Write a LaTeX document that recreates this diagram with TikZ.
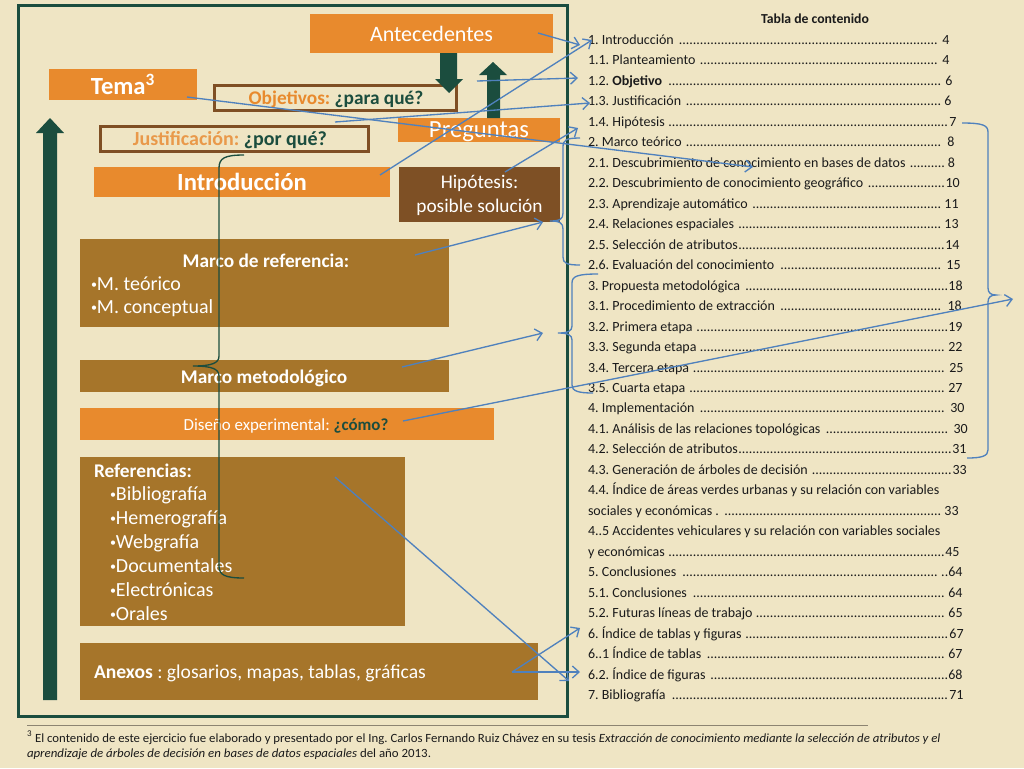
\documentclass[tikz,border=0pt]{standalone}
\usepackage{fontspec}
\setmainfont{Carlito}
\usepackage{graphicx}
\usetikzlibrary{arrows.meta,fit}
\frenchspacing
\newdimen\PX \PX=0.75pt
\definecolor{bgc}{HTML}{EFE5C4}
\definecolor{orangeB}{HTML}{E88A2D}
\definecolor{orangeT}{HTML}{E9994A}
\definecolor{goldB}{HTML}{A6752A}
\definecolor{hipB}{HTML}{7E5025}
\definecolor{outB}{HTML}{7F4F24}
\definecolor{dkgreen}{HTML}{1B4D3E}
\definecolor{arrblue}{HTML}{4F81BD}
\definecolor{tocblack}{HTML}{1A1A1A}
\definecolor{sepgray}{HTML}{8C8472}
\newcommand\fs[1]{\fontsize{#1}{#1}\selectfont}
\newcommand\smb{\raisebox{1.2pt}{\fs{9}•}}
\newcommand\dotlead{\leaders\hbox to 0.25em{\hss.\hss}\hfill}
\newcommand\tocrow[4]{\node[toc] (toc#1) at (588,{44.5+20.47*#1}) {\makebox[\dimexpr #2\PX-588\PX\relax][l]{#3\dotlead#4}};}
\newcommand\tocplain[2]{\node[toc] (toc#1) at (588,{44.5+20.47*#1}) {#2};}
\begin{document}
\frenchspacing
\begin{tikzpicture}[x=0.75pt,y=-0.75pt,
  every node/.style={inner sep=0pt,outer sep=0pt},
  obox/.style={fit={#1},fill=orangeB},
  gbox/.style={fit={#1},fill=goldB},
  hbox/.style={fit={#1},fill=hipB},
  qbox/.style={fit={#1},draw=outB,line width=2.25pt},
  wt/.style={anchor=base,text=white},
  toc/.style={anchor=base west,text=tocblack,font=\fs{10.5}},
  barrow/.style={draw=arrblue,line width=1pt,-{Straight Barb[length=5pt,width=9pt]}},
  bline/.style={draw=arrblue,line width=1pt},
  gline/.style={draw=dkgreen,line width=1pt},
  blk/.style={fill=dkgreen}]
\fill[bgc] (0,0) rectangle (1024,768);
\useasboundingbox (0,0) rectangle (1024,768);

% frame
\node[draw=dkgreen,line width=2.25pt,fit={(18,5)(567,716)}] (frame) {};

% boxes and texts
\node[obox={(310,14)(553,53)}] (ant) {};
\node[wt,font=\fs{16.5}] (antT) at (431.5,41) {Antecedentes};
\node[obox={(49,69)(197,100)}] (tema) {};
\node[wt,font=\bfseries\fs{18.5}] (temaT) at (123,94) {Tema\textsuperscript{3}};
\node[qbox={(214,85)(456,110)}] (obj) {};
\node[anchor=base,font=\bfseries\fs{14.5}] (objT) at (336,104) {\textcolor{orangeB}{Objetivos:} \textcolor{dkgreen}{¿para qué?}};
\node[qbox={(100,126)(368,151)}] (jus) {};
\node[anchor=base,font=\bfseries\fs{15}] (jusT) at (230,145) {\textcolor{orangeT}{Justificación:} \textcolor{dkgreen}{¿por qué?}};
\node[obox={(398,118)(560,142)}] (pre) {};
\node[wt,font=\fs{18.5}] (preT) at (479,137) {Preguntas};
\node[obox={(94,167)(390,197)}] (intro) {};
\node[wt,font=\bfseries\fs{18.5}] (introT) at (242,190) {Introducción};
\node[hbox={(399,167)(560,222)}] (hip) {};
\node[wt,font=\fs{14.5}] (hipT1) at (479.5,188) {Hipótesis:};
\node[wt,font=\fs{14.5}] (hipT2) at (479.5,212) {posible solución};
\node[gbox={(80,239)(449,327)}] (mref) {};
\node[wt,font=\bfseries\fs{14.5}] (mrefT) at (266,267) {Marco de referencia:};
\node[wt,anchor=base west,font=\fs{15}] (mrefA) at (91,290) {\smb M. teórico};
\node[wt,anchor=base west,font=\fs{15}] (mrefB) at (91,313) {\smb M. conceptual};
\node[gbox={(80,360)(449,392)}] (mmet) {};
\node[wt,font=\bfseries\fs{14.5}] (mmetT) at (264,383) {Marco metodológico};
\node[obox={(80,408)(494,440)}] (dis) {};
\node[wt,font=\fs{12.7}] (disT) at (286,430) {Diseño experimental: \textbf{\textcolor{dkgreen}{¿cómo?}}};
\node[gbox={(80,457)(405,626)}] (refs) {};
\node[wt,anchor=base west,font=\bfseries\fs{14.5}] (refsT) at (94,477) {Referencias:};
\node[wt,anchor=base west,font=\fs{15}] (r1) at (110,500) {\smb Bibliografía};
\node[wt,anchor=base west,font=\fs{15}] (r2) at (110,524) {\smb Hemerografía};
\node[wt,anchor=base west,font=\fs{15}] (r3) at (110,548) {\smb Webgrafía};
\node[wt,anchor=base west,font=\fs{15}] (r4) at (110,572) {\smb Documentales};
\node[wt,anchor=base west,font=\fs{15}] (r5) at (110,596) {\smb Electrónicas};
\node[wt,anchor=base west,font=\fs{15}] (r6) at (110,620) {\smb Orales};
\node[gbox={(80,643)(538,700)}] (anx) {};
\node[wt,anchor=base west,font=\fs{14.7}] (anxT) at (94,678) {\textbf{Anexos} : glosarios, mapas, tablas, gráficas};

% block arrows
\fill[blk] (440,53) -- (457,53) -- (457,79) -- (463,79) -- (449,93) -- (435,79) -- (440,79) -- cycle;
\fill[blk] (487,118) -- (500,118) -- (500,75) -- (507,75) -- (493,62) -- (479,75) -- (487,75) -- cycle;
\fill[blk] (43,700) -- (57,700) -- (57,133) -- (64,133) -- (50,118) -- (36,133) -- (43,133) -- cycle;

% green brace
\draw[gline] (244,155) .. controls (225,155) and (219,158) .. (219,168) -- (219,356) .. controls (219,363) and (212,366) .. (193,366) .. controls (212,366) and (219,369) .. (219,376) -- (219,566) .. controls (219,575) and (225,578) .. (244,578);

% TOC
\node[anchor=base,font=\bfseries\fs{10.3},text=tocblack] (tocT) at (815,23) {Tabla de contenido};
\tocrow{0}{950}{1. Introducción }{ 4}
\tocrow{1}{950}{1.1. Planteamiento }{ 4}
\tocrow{2}{953}{1.2. \textbf{Objetivo} }{ 6}
\tocrow{3}{952}{1.3. Justificación }{6}
\tocrow{4}{957}{1.4. Hipótesis }{7}
\tocrow{5}{955}{2. Marco teórico }{ 8}
\tocrow{6}{955}{2.1. Descubrimiento de conocimiento en bases de datos }{8}
\tocrow{7}{960}{2.2. Descubrimiento de conocimiento geográfico }{10}
\tocrow{8}{959}{2.3. Aprendizaje automático }{11}
\tocrow{9}{959}{2.4. Relaciones espaciales }{13}
\tocrow{10}{960}{2.5. Selección de atributos}{14}
\tocrow{11}{961}{2.6. Evaluación del conocimiento }{ 15}
\tocrow{12}{963}{3. Propuesta metodológica }{18}
\tocrow{13}{962}{3.1. Procedimiento de extracción }{ 18}
\tocrow{14}{963}{3.2. Primera etapa }{19}
\tocrow{15}{963}{3.3. Segunda etapa }{ 22}
\tocrow{16}{964}{3.4. Tercera etapa }{ 25}
\tocrow{17}{963}{3.5. Cuarta etapa }{ 27}
\tocrow{18}{965}{4. Implementación }{ 30}
\tocrow{19}{968}{4.1. Análisis de las relaciones topológicas }{ 30}
\tocrow{20}{967}{4.2. Selección de atributos}{31}
\tocrow{21}{967}{4.3. Generación de árboles de decisión }{33}
\tocplain{22}{4.4. Índice de áreas verdes urbanas y su relación con variables}
\tocrow{23}{959}{sociales y económicas . }{ 33}
\tocplain{24}{4..5 Accidentes vehiculares y su relación con variables sociales}
\tocrow{25}{960}{y económicas }{45}
\tocrow{26}{963}{5. Conclusiones }{ ..64}
\tocrow{27}{963}{5.1. Conclusiones }{ 64}
\tocrow{28}{963}{5.2. Futuras líneas de trabajo }{ 65}
\tocrow{29}{964}{6. Índice de tablas y figuras }{67}
\tocrow{30}{963}{6..1 Índice de tablas }{ 67}
\tocrow{31}{963}{6.2. Índice de figuras }{68}
\tocrow{32}{964}{7. Bibliografía }{71}

% blue connectors
\coordinate (antOut) at (538,33);   \coordinate (tocIntroA) at (580,45);
\coordinate (introOut) at (380,175); \coordinate (tocIntroB) at (592,40);
\coordinate (objOut) at (477,81);   \coordinate (tocObj) at (578,78);
\coordinate (temaOut) at (187,97);  \coordinate (tocMT) at (753,167);
\coordinate (jusOut) at (335,122);  \coordinate (tocJus) at (590,103);
\coordinate (hipOut) at (505,172);  \coordinate (tocHip) at (578,128);
\coordinate (mrefOut) at (415,255); \coordinate (braceA) at (543,222);
\coordinate (mmetOut) at (402,367); \coordinate (braceB) at (543,333);
\coordinate (disOut) at (403,421);  \coordinate (braceC) at (1013,299);
\coordinate (refsOut) at (335,477); \coordinate (tocBib) at (569,681);
\coordinate (anxOut) at (512,672);  \coordinate (tocTab) at (580,628); \coordinate (tocFig) at (580,672);
\draw[barrow] (antOut) -- (tocIntroA);
\draw[barrow] (introOut) -- (tocIntroB);
\draw[barrow] (objOut) -- (tocObj);
\draw[barrow] (temaOut) -- (tocMT);
\draw[barrow] (jusOut) -- (tocJus);
\draw[barrow] (hipOut) -- (tocHip);
\draw[barrow] (mrefOut) -- (braceA);
\draw[barrow] (mmetOut) -- (braceB);
\draw[barrow] (disOut) -- (braceC);
\draw[barrow] (refsOut) -- (tocBib);
\draw[barrow] (anxOut) -- (tocTab);
\draw[barrow] (anxOut) -- (tocFig);

% blue braces
\draw[bline] (580,138) .. controls (566,138) and (563,140) .. (563,147) -- (563,213) .. controls (563,219) and (560,221) .. (550,221) .. controls (560,221) and (563,223) .. (563,229) -- (563,257) .. controls (563,263) and (566,265) .. (580,265);
\draw[bline] (598,274) .. controls (578,274) and (572,276) .. (572,283) -- (572,326) .. controls (572,331) and (568,333) .. (558,333) .. controls (568,333) and (572,335) .. (572,340) -- (572,385) .. controls (572,391) and (578,393) .. (593,393);
\draw[bline] (962,123) .. controls (982,123) and (988,125) .. (988,132) -- (988,288) .. controls (988,293) and (991,295) .. (996,295) .. controls (991,295) and (988,297) .. (988,302) -- (988,450) .. controls (988,456) and (982,458) .. (967,458);

% footnote
\draw[sepgray,line width=0.75pt] (27,725) -- (868,725);
\node[anchor=base west,text=tocblack] (fn1) at (27,742) {\resizebox{685pt}{\height}{\fs{9.4}\textsuperscript{3} El contenido de este ejercicio fue elaborado y presentado por el Ing. Carlos Fernando Ruiz Chávez en su tesis \textit{Extracción de conocimiento mediante la selección de atributos y el}}};
\node[anchor=base west,text=tocblack] (fn2) at (27,757) {\resizebox{303pt}{\height}{\fs{9.4}\textit{aprendizaje de árboles de decisión en bases de datos espaciales} del año 2013.}};
\end{tikzpicture}
\end{document}
